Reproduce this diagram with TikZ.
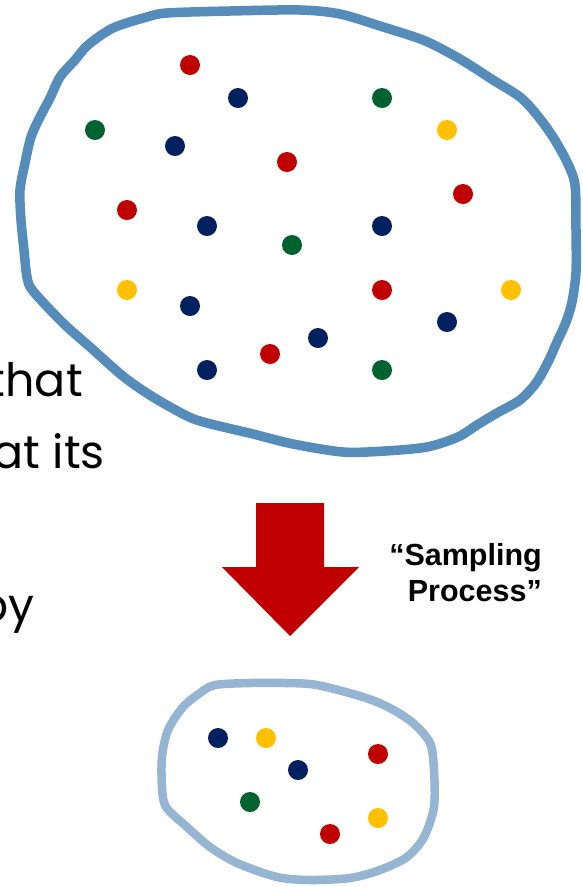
\documentclass[tikz,border=0pt]{standalone}
\usepackage{fontspec}
\newfontfamily\bodyfont{Poppins}
\newfontfamily\labelfont{Liberation Sans}
\definecolor{popblue}{HTML}{568CBA}
\definecolor{sampblue}{HTML}{95B5D3}
\definecolor{dred}{HTML}{C00000}
\definecolor{dnavy}{HTML}{002060}
\definecolor{dgreen}{HTML}{00622F}
\definecolor{dyellow}{HTML}{FFC000}
\definecolor{arrowred}{HTML}{C00000}
\tikzset{
  dot/.style={circle, inner sep=0pt, minimum size=20pt, fill=#1, draw=none},
  blob/.style={line width=#1, line join=round, line cap=round},
  bodytext/.style={inner sep=0pt, anchor=base east, text=black,
    font=\bodyfont\fontsize{46}{50}\selectfont},
}
\begin{document}
\begin{tikzpicture}[x=1pt, y=-1pt]
\useasboundingbox (0,0) rectangle (582,887);
\fill[white] (0,0) rectangle (582,887);

% body text running in from the left edge
\begin{scope}
  \clip (0,0) rectangle (582,887);
  \node[bodytext] (w1) at (83,396) {that};
  \node[bodytext] (w2) at (105,468) {at its};
  \node[bodytext] (w3) at (35,621) {by};
\end{scope}

% population outline
\draw[popblue, blob=9.5pt] plot[smooth cycle, tension=0.5] coordinates {
  (167,13) (230,11) (300,10) (340,14) (380,26) (423,40) (453,55) (473,67)
  (493,80) (520,97) (537,115) (553,137) (567,162) (575,185) (576,230)
  (576,272) (572,302) (566,322) (557,342) (548,362) (536,383) (520,400)
  (497,413) (477,425) (458,437) (427,447) (385,451) (343,452) (293,444)
  (253,434) (207,423) (187,416) (153,397) (124,377) (90,347) (63,323)
  (33,291) (27,277) (24,250) (21,220) (20,190) (25,163) (31,137) (40,117)
  (50,98) (60,77) (75,60) (88,45) (113,28) (147,17)};

% population members
\foreach \x/\y/\c [count=\i] in {
  190/65/dred, 238/98/dnavy, 382/98/dgreen, 95/130/dgreen, 175/146/dnavy,
  447/130/dyellow, 287/162/dred, 463/194/dred, 127/210/dred, 207/226/dnavy,
  382/226/dnavy, 292/245/dgreen, 127/290/dyellow, 382/290/dred,
  511/290/dyellow, 190/306/dnavy, 447/322/dnavy, 318/338/dnavy,
  270/354/dred, 207/370/dnavy, 382/370/dgreen}
  \node[dot=\c] (p\i) at (\x,\y) {};

% sampling arrow
\fill[arrowred] (256,503) -- (324,503) -- (324,567) -- (359,567)
  -- (290,636) -- (222,567) -- (256,567) -- cycle;
\node[inner sep=0pt, anchor=north east, align=right,
  font=\labelfont\bfseries\fontsize{30.5}{36}\selectfont] (lbl) at (542,543)
  {“Sampling\\Process”};

% sample outline
\draw[sampblue, blob=8.5pt] plot[smooth cycle, tension=0.5] coordinates {
  (215,685) (250,683) (285,683) (317,685) (363,697) (390,708) (413,723)
  (430,743) (434,770) (434,807) (424,837) (407,857) (380,870) (350,878)
  (310,880) (277,877) (237,863) (210,847) (187,827) (166,807) (162,787)
  (162,757) (168,730) (183,707) (200,693)};

% sample members
\foreach \x/\y/\c [count=\i] in {
  218/738/dnavy, 266/738/dyellow, 298/770/dnavy, 378/754/dred,
  250/802/dgreen, 330/834/dred, 378/818/dyellow}
  \node[dot=\c] (s\i) at (\x,\y) {};
\end{tikzpicture}
\end{document}
